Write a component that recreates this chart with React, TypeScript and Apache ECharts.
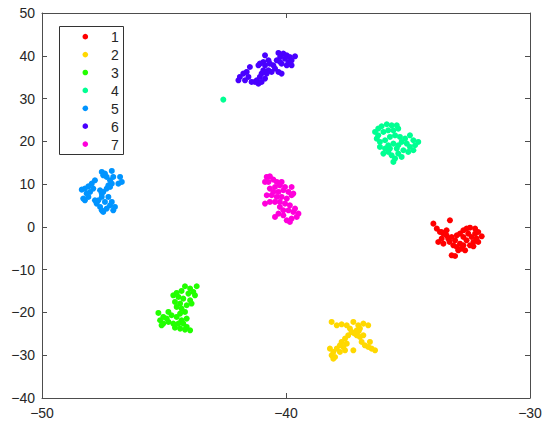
import React, { useEffect, useRef } from "react";
import * as echarts from "echarts";

const classNames = ["1", "2", "3", "4", "5", "6", "7"];
const classColors = ["#ff0000", "#ffd800", "#22ff00", "#00ff92", "#0094ff", "#4900ff", "#ff00db"];

const xTicks = { min: -50, max: -30, interval: 10 };
const yTicks = { min: -40, max: 50, interval: 10 };

const cluster1: number[][] = [
  [-33.96, 0.76], [-33.28, 1.54], [-33.82, -0.41], [-33.69, -1.19], [-33.55, -1.58], [-33.42, -1.97],
  [-33.62, -2.75], [-33.76, -3.53], [-33.55, -3.92], [-33.35, -2.75], [-33.21, -2.36], [-33.07, -3.14],
  [-33.14, -4.31], [-33.0, -4.7], [-32.87, -3.92], [-32.73, -4.31], [-32.8, -5.09], [-32.66, -5.48],
  [-32.94, -5.48], [-33.21, -6.65], [-33.07, -6.8], [-32.87, -1.58], [-32.73, -0.8], [-32.6, -0.41],
  [-32.46, -0.18], [-32.25, -0.41], [-32.12, -1.19], [-31.98, -2.2], [-32.19, -2.75], [-32.32, -3.53],
  [-32.46, -4.31], [-32.6, -3.14], [-32.39, -2.36], [-32.25, -1.58], [-32.53, -1.58], [-32.73, -2.36],
  [-33.0, -1.97], [-33.42, -0.8], [-32.12, -3.53], [-32.32, -4.54], [-33.62, -1.2], [-33.3, -3.5],
];

const cluster2: number[][] = [
  [-38.13, -22.22], [-37.92, -23.0], [-37.72, -22.77], [-37.51, -23.0], [-37.24, -22.22], [-37.04, -23.0],
  [-36.83, -22.61], [-36.63, -23.0], [-37.1, -24.17], [-37.31, -24.56], [-37.45, -25.34], [-37.58, -26.12],
  [-37.72, -26.9], [-37.79, -27.68], [-37.92, -28.46], [-38.06, -29.24], [-38.2, -28.46], [-38.13, -30.02],
  [-37.99, -30.41], [-37.79, -29.24], [-37.58, -28.85], [-37.24, -28.85], [-36.97, -25.73], [-36.9, -26.9],
  [-36.77, -27.68], [-36.63, -28.07], [-36.49, -28.46], [-36.35, -28.85], [-37.1, -25.34], [-36.97, -23.78],
  [-37.38, -23.78], [-37.51, -27.29], [-37.65, -28.07], [-38.06, -30.8], [-36.83, -25.34], [-36.56, -26.9],
  [-37.2, -24.9], [-37.02, -24.4],
];

const cluster3: number[][] = [
  [-44.14, -13.88], [-43.93, -14.43], [-43.66, -13.88], [-43.8, -15.21], [-43.73, -15.99], [-44.0, -15.6],
  [-44.28, -14.97], [-44.48, -15.44], [-44.62, -15.99], [-44.41, -16.38], [-44.21, -16.77], [-43.93, -17.15],
  [-43.87, -17.93], [-44.07, -18.32], [-44.34, -17.93], [-44.55, -17.54], [-44.48, -18.71], [-44.28, -19.1],
  [-44.14, -19.88], [-44.34, -20.27], [-44.48, -21.05], [-44.28, -21.83], [-44.07, -21.44], [-44.21, -22.61],
  [-44.07, -23.39], [-43.93, -24.17], [-44.14, -24.01], [-44.34, -23.78], [-44.55, -23.55], [-44.62, -22.61],
  [-44.82, -22.22], [-45.03, -22.61], [-45.16, -21.83], [-45.23, -20.12], [-45.03, -21.05], [-44.82, -19.88],
  [-44.69, -20.66], [-44.89, -21.44], [-45.1, -23.0], [-44.41, -22.61],
];

const cluster4: number[][] = [
  [-36.35, 22.19], [-36.22, 22.97], [-36.08, 23.52], [-35.87, 23.99], [-35.67, 23.75], [-35.46, 23.75],
  [-35.4, 22.97], [-35.6, 22.58], [-35.81, 22.58], [-36.01, 22.19], [-36.22, 21.41], [-36.28, 20.63],
  [-36.15, 19.86], [-35.94, 20.25], [-35.74, 21.02], [-35.53, 21.41], [-35.33, 21.02], [-35.12, 20.63],
  [-34.92, 21.41], [-34.78, 20.25], [-34.58, 19.86], [-34.71, 19.08], [-34.92, 18.69], [-35.05, 19.47],
  [-35.26, 19.86], [-35.4, 19.08], [-35.6, 19.47], [-35.81, 19.08], [-35.94, 18.3], [-36.15, 18.69],
  [-36.01, 17.13], [-35.81, 17.52], [-35.67, 16.74], [-35.53, 15.96], [-35.6, 15.18], [-35.4, 17.13],
  [-35.19, 17.91], [-34.99, 17.52], [-34.78, 17.91], [-35.26, 16.35], [-35.74, 18.3], [-35.46, 18.3],
  [-42.57, 29.75],
];

const cluster5: number[][] = [
  [-47.55, 12.84], [-47.42, 12.45], [-47.14, 13.08], [-47.08, 11.67], [-46.8, 11.67], [-46.73, 10.5],
  [-46.87, 10.11], [-47.35, 11.67], [-47.49, 12.06], [-47.21, 10.89], [-48.37, 8.71], [-48.24, 8.95],
  [-48.1, 9.49], [-47.96, 10.11], [-47.83, 10.89], [-47.9, 8.95], [-48.03, 8.17], [-48.17, 7.78],
  [-48.31, 6.61], [-48.24, 6.22], [-48.1, 7.0], [-47.62, 8.56], [-47.55, 7.78], [-47.49, 8.17],
  [-47.35, 8.95], [-47.28, 9.72], [-47.21, 9.33], [-47.14, 10.11], [-47.55, 7.0], [-47.69, 6.22],
  [-47.76, 5.44], [-47.62, 4.66], [-47.55, 3.88], [-47.49, 3.49], [-47.35, 4.27], [-47.21, 5.05],
  [-47.14, 5.83], [-47.08, 3.88], [-47.01, 4.66], [-47.83, 6.22], [-47.42, 5.83], [-47.28, 7.0],
];

const cluster6: number[][] = [
  [-40.31, 40.66], [-40.11, 40.5], [-39.97, 40.11], [-39.84, 39.72], [-39.63, 39.88], [-39.77, 38.94],
  [-39.9, 38.55], [-40.04, 39.33], [-40.24, 39.72], [-40.38, 38.94], [-40.18, 38.16], [-39.97, 37.77],
  [-39.77, 37.77], [-39.84, 38.16], [-40.24, 38.55], [-40.86, 40.11], [-40.72, 38.94], [-40.93, 38.55],
  [-41.07, 38.16], [-41.13, 37.77], [-40.86, 37.77], [-40.66, 38.16], [-40.52, 37.77], [-40.45, 36.99],
  [-40.31, 36.22], [-40.18, 35.83], [-40.59, 36.22], [-40.72, 36.6], [-40.79, 35.83], [-40.93, 36.6],
  [-41.0, 35.83], [-41.07, 35.05], [-41.2, 34.27], [-41.13, 33.49], [-41.27, 33.88], [-41.0, 33.88],
  [-40.86, 34.66], [-41.48, 37.38], [-41.61, 36.22], [-41.75, 35.83], [-41.89, 35.05], [-41.95, 34.27],
  [-41.68, 34.27], [-41.54, 35.05], [-41.41, 33.88],
];

const cluster7: number[][] = [
  [-40.79, 11.67], [-40.66, 11.83], [-40.52, 11.05], [-40.72, 10.5], [-40.86, 10.5], [-40.38, 10.5],
  [-40.18, 10.5], [-40.25, 9.72], [-40.04, 9.33], [-39.77, 9.33], [-40.45, 9.33], [-40.66, 8.95],
  [-40.52, 8.17], [-40.31, 8.17], [-40.11, 8.56], [-39.9, 8.17], [-39.7, 7.78], [-39.77, 7.39],
  [-40.59, 7.39], [-40.79, 7.39], [-40.38, 7.0], [-40.18, 7.0], [-39.97, 6.61], [-40.86, 5.44],
  [-40.66, 5.83], [-40.45, 5.83], [-40.25, 5.83], [-40.04, 5.44], [-39.84, 5.05], [-40.25, 4.66],
  [-40.11, 3.88], [-39.9, 3.88], [-39.7, 3.49], [-39.49, 3.1], [-39.56, 2.32], [-39.77, 1.93],
  [-39.97, 1.54], [-39.84, 1.15], [-40.45, 2.32], [-39.63, 4.27], [-40.11, 2.71], [-40.31, 3.1],
];

const clusters = [cluster1, cluster2, cluster3, cluster4, cluster5, cluster6, cluster7];

const FONT = "'Liberation Sans', Arial, Helvetica, sans-serif";
const AXIS_COLOR = "#4d4d4d";
const TEXT_COLOR = "#262626";

const fmt = (v: number) => String(v).replace("-", "\u2212");

function makeAxis(kind: "x" | "y", pos: string, showLabel: boolean, range: any) {
  return {
    type: "value",
    position: pos,
    min: range.min,
    max: range.max,
    interval: range.interval,
    axisLine: { show: true, onZero: false, lineStyle: { color: AXIS_COLOR, width: 1 } },
    axisTick: { show: true, inside: true, length: 5, lineStyle: { color: AXIS_COLOR, width: 1 } },
    axisLabel: {
      show: showLabel,
      formatter: fmt,
      color: TEXT_COLOR,
      fontSize: 14,
      fontFamily: FONT,
      margin: kind === "x" ? 8 : 7,
    },
    splitLine: { show: false },
  };
}

function legendGraphics() {
  const left = 59.5;
  const top = 26.5;
  const rowTop = 36.7;
  const rowStep = 17.9;
  const children: any[] = [
    {
      type: "rect",
      shape: { x: left, y: top, width: 64, height: 128 },
      style: { fill: "#ffffff", stroke: "#333333", lineWidth: 1 },
    },
  ];
  classNames.forEach((name, i) => {
    const cy = rowTop + i * rowStep;
    children.push({
      type: "circle",
      shape: { cx: 85.3, cy, r: 2.8 },
      style: { fill: classColors[i] },
    });
    children.push({
      type: "text",
      x: 115,
      y: cy + 0.5,
      style: {
        text: name,
        fill: TEXT_COLOR,
        font: `14px ${FONT}`,
        align: "center",
        verticalAlign: "middle",
      },
    });
  });
  return [{ type: "group", z: 100, children }];
}

export default function App() {
  const ref = useRef<HTMLDivElement>(null);
  useEffect(() => {
    if (!ref.current) return;
    const chart = echarts.init(ref.current, undefined, { renderer: "svg" });
    chart.setOption({
      animation: false,
      backgroundColor: "#ffffff",
      textStyle: { fontFamily: FONT },
      grid: { left: 42, right: 20, top: 13, bottom: 29, containLabel: false },
      xAxis: [makeAxis("x", "bottom", true, xTicks), makeAxis("x", "top", false, xTicks)],
      yAxis: [makeAxis("y", "left", true, yTicks), makeAxis("y", "right", false, yTicks)],
      graphic: legendGraphics(),
      series: clusters.map((pts, i) => ({
        name: classNames[i],
        type: "scatter",
        xAxisIndex: 0,
        yAxisIndex: 0,
        symbol: "circle",
        symbolSize: 6,
        itemStyle: { color: classColors[i], opacity: 1 },
        data: pts,
      })),
    });
    return () => chart.dispose();
  }, []);
  return <div ref={ref} style={{ position: "fixed", left: 0, top: 0, width: 550, height: 427 }} />;
}
